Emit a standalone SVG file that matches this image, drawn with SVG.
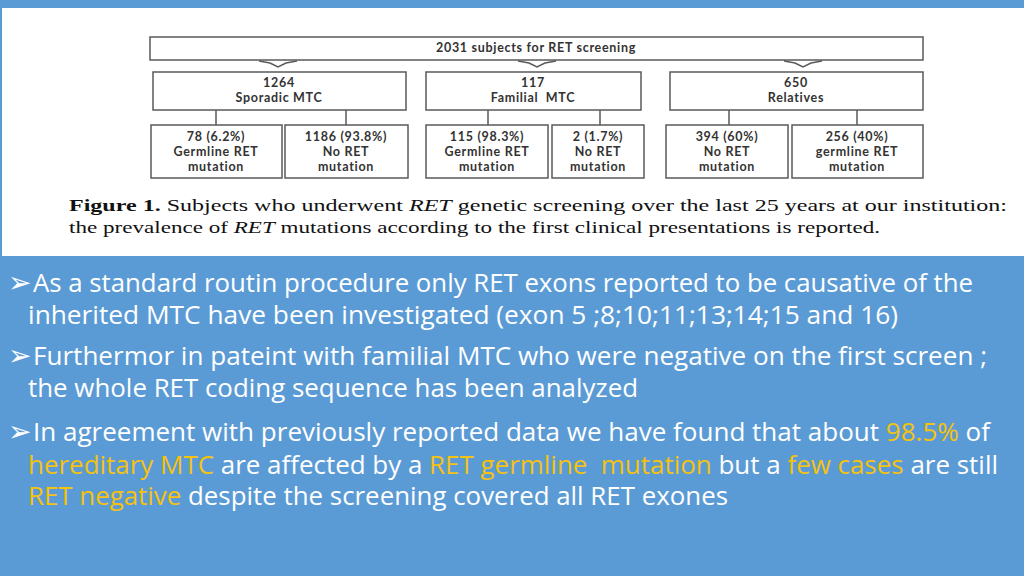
<svg xmlns="http://www.w3.org/2000/svg" width="1024" height="576" viewBox="0 0 1024 576">
<style>
.box{fill:#fff;stroke:#5a5a5a;stroke-width:1.5}
.bt{font-family:Lato,"Open Sans",sans-serif;font-weight:bold;font-size:12.5px;letter-spacing:0.7px;fill:#333;text-anchor:middle}
.cn{stroke:#5a5a5a;stroke-width:1.5;fill:none}
.cap{font-family:"Liberation Serif",serif;font-size:17.5px;fill:#111}
.bl{font-family:"Open Sans",Lato,sans-serif;font-size:25px;fill:#fff;white-space:pre}
.y{fill:#f5c20f}
.ar{font-family:"DejaVu Sans",sans-serif;font-size:28px;fill:#fff}
</style>
<rect width="1024" height="576" fill="#5b9bd5"/>
<rect x="2" y="8" width="1022" height="248" fill="#fff"/>

<g id="connectors">
<path class="cn" d="M216 110V125M346 110V125M488 110V125M600 110V125M729 110V125M857 110V125"/>
<path class="cn" stroke-width="1.2" d="M259 61L270 63L278 67L286 63L297 61M518 61L529 63L537 67L545 63L556 61M784 61L795 63L803 67L811 63L822 61"/>
</g>

<g id="n-root"><rect class="box" x="150" y="37" width="773" height="23"/><text class="bt" x="536" y="52">2031 subjects for RET screening</text></g>

<g id="n-sporadic"><rect class="box" x="153" y="72" width="253" height="38"/><text class="bt" x="279" y="87">1264</text><text class="bt" x="279" y="102">Sporadic MTC</text></g>
<g id="n-familial"><rect class="box" x="426" y="72" width="215" height="38"/><text class="bt" x="533" y="87">117</text><text class="bt" x="533" y="102" style="white-space:pre">Familial  MTC</text></g>
<g id="n-relatives"><rect class="box" x="670" y="72" width="253" height="38"/><text class="bt" x="796" y="87">650</text><text class="bt" x="796" y="102">Relatives</text></g>

<g id="n-s1"><rect class="box" x="151" y="125" width="131" height="53"/><text class="bt" x="216" y="141">78 (6.2%)</text><text class="bt" x="216" y="156">Germline RET</text><text class="bt" x="216" y="171">mutation</text></g>
<g id="n-s2"><rect class="box" x="285" y="125" width="123" height="53"/><text class="bt" x="346" y="141">1186 (93.8%)</text><text class="bt" x="346" y="156">No RET</text><text class="bt" x="346" y="171">mutation</text></g>
<g id="n-f1"><rect class="box" x="426" y="125" width="122" height="53"/><text class="bt" x="487" y="141">115 (98.3%)</text><text class="bt" x="487" y="156">Germline RET</text><text class="bt" x="487" y="171">mutation</text></g>
<g id="n-f2"><rect class="box" x="552" y="125" width="92" height="53"/><text class="bt" x="598" y="141">2 (1.7%)</text><text class="bt" x="598" y="156">No RET</text><text class="bt" x="598" y="171">mutation</text></g>
<g id="n-r1"><rect class="box" x="666" y="125" width="122" height="53"/><text class="bt" x="727" y="141">394 (60%)</text><text class="bt" x="727" y="156">No RET</text><text class="bt" x="727" y="171">mutation</text></g>
<g id="n-r2"><rect class="box" x="792" y="125" width="131" height="53"/><text class="bt" x="857" y="141">256 (40%)</text><text class="bt" x="857" y="156">germline RET</text><text class="bt" x="857" y="171">mutation</text></g>

<text class="cap" x="69" y="211" textLength="938" lengthAdjust="spacingAndGlyphs"><tspan font-weight="bold">Figure 1.</tspan>  Subjects who underwent <tspan font-style="italic">RET</tspan> genetic screening over the last 25 years at our institution:</text>
<text class="cap" x="69" y="233" textLength="811" lengthAdjust="spacingAndGlyphs">the prevalence of <tspan font-style="italic">RET</tspan> mutations according to the first clinical presentations is reported.</text>

<text class="ar" x="8" y="292">➢</text>
<text class="bl" x="33" y="292" textLength="940" lengthAdjust="spacingAndGlyphs">As a standard routin procedure only RET exons reported to be causative of the</text>
<text class="bl" x="28" y="324" textLength="870" lengthAdjust="spacingAndGlyphs">inherited MTC have been investigated (exon 5 ;8;10;11;13;14;15 and 16)</text>
<text class="ar" x="8" y="365">➢</text>
<text class="bl" x="33" y="365" textLength="954" lengthAdjust="spacingAndGlyphs">Furthermor in pateint with familial MTC who were negative on the first screen ;</text>
<text class="bl" x="28" y="397" textLength="610" lengthAdjust="spacingAndGlyphs">the whole RET coding sequence has been analyzed</text>
<text class="ar" x="8" y="441">➢</text>
<text class="bl" x="33" y="441" textLength="957" lengthAdjust="spacingAndGlyphs">In agreement with previously reported data we have found that about <tspan class="y">98.5%</tspan> of</text>
<text class="bl" x="28" y="474" textLength="970" lengthAdjust="spacingAndGlyphs"><tspan class="y">hereditary MTC</tspan> are affected by a <tspan class="y">RET germline  mutation</tspan> but a <tspan class="y">few cases</tspan> are still</text>
<text class="bl" x="28" y="505" textLength="700" lengthAdjust="spacingAndGlyphs"><tspan class="y">RET negative</tspan> despite the screening covered all RET exones</text>
</svg>
